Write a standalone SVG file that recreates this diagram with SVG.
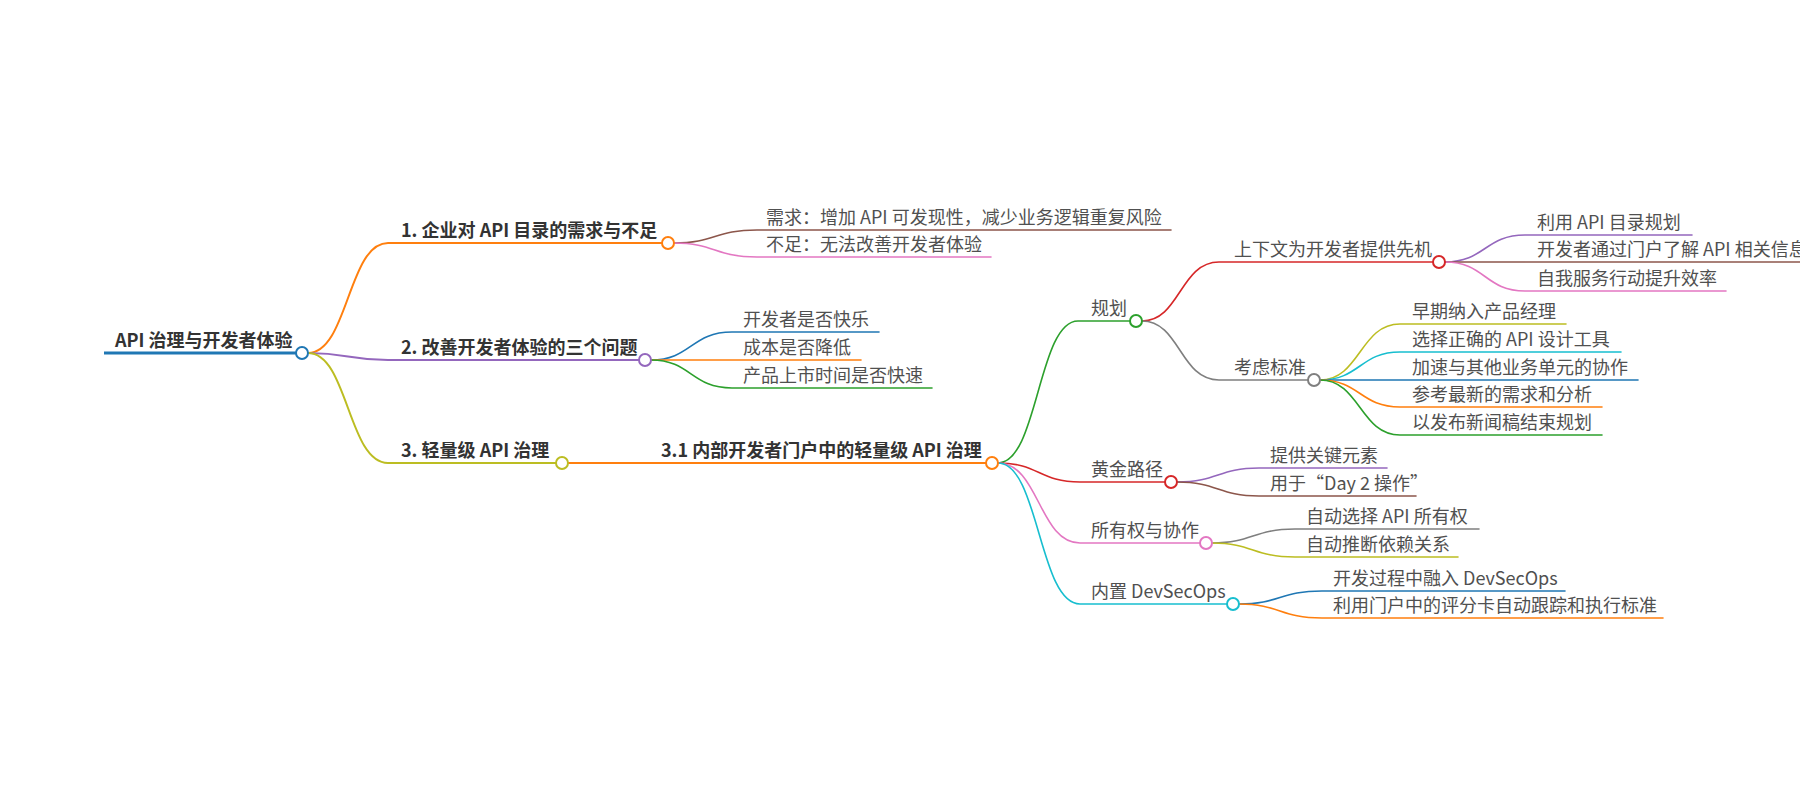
<svg xmlns="http://www.w3.org/2000/svg" width="1800" height="800" viewBox="0 0 1800 800">
<style>
.c{fill:none;stroke-width:1.6;stroke-linecap:round}
.c2{fill:none;stroke-width:2;stroke-linecap:round}
.t{font-family:"Noto Sans CJK SC","Liberation Sans",sans-serif;font-size:18px;fill:#505050}
.b{font-family:"Noto Sans CJK SC","Liberation Sans",sans-serif;font-size:18px;font-weight:bold;fill:#333}
.k{fill:#fff;stroke-width:2}
</style>
<rect width="1800" height="800" fill="#fff"/>
<g id="connectors">
<path class="c2" stroke="#ff7f0e" d="M308,353 C348,353 348,243 388,243 H662"/>
<path class="c2" stroke="#9467bd" d="M308,353 C348,353 348,360 388,360 H639"/>
<path class="c2" stroke="#bcbd22" d="M308,353 C348,353 348,463 388,463 H556"/>
<path class="c" stroke="#8c564b" d="M674,243 C715,243 715,230 757,230 H1171"/>
<path class="c" stroke="#e377c2" d="M674,243 C715,243 715,257 757,257 H991"/>
<path class="c" stroke="#1f77b4" d="M651,360 C691,360 691,332 732,332 H879"/>
<path class="c" stroke="#ff7f0e" d="M651,360 H861"/>
<path class="c" stroke="#2ca02c" d="M651,360 C691,360 691,388 732,388 H932"/>
<path class="c2" stroke="#ff7f0e" d="M568,463 H986"/>
<path class="c" stroke="#2ca02c" d="M998,463 C1038,463 1038,321 1078,321 H1130"/>
<path class="c" stroke="#d62728" d="M998,463 C1039,463 1039,482 1080,482 H1165"/>
<path class="c" stroke="#e377c2" d="M998,463 C1039,463 1039,543 1080,543 H1200"/>
<path class="c" stroke="#17becf" d="M998,463 C1039,463 1039,604 1080,604 H1227"/>
<path class="c" stroke="#d62728" d="M1142,321 C1180,321 1180,262 1219,262 H1433"/>
<path class="c" stroke="#7f7f7f" d="M1142,321 C1180,321 1180,380 1219,380 H1308"/>
<path class="c" stroke="#9467bd" d="M1445,262 C1485,262 1485,235 1525,235 H1692"/>
<path class="c" stroke="#8c564b" d="M1445,262 H1800"/>
<path class="c" stroke="#e377c2" d="M1445,262 C1485,262 1485,291 1525,291 H1726"/>
<path class="c" stroke="#bcbd22" d="M1320,380 C1360,380 1360,324 1400,324 H1566"/>
<path class="c" stroke="#17becf" d="M1320,380 C1360,380 1360,352 1400,352 H1621"/>
<path class="c" stroke="#1f77b4" d="M1320,380 H1638"/>
<path class="c" stroke="#ff7f0e" d="M1320,380 C1360,380 1360,407 1400,407 H1602"/>
<path class="c" stroke="#2ca02c" d="M1320,380 C1360,380 1360,435 1400,435 H1602"/>
<path class="c" stroke="#9467bd" d="M1177,482 C1218,482 1218,468 1259,468 H1387"/>
<path class="c" stroke="#8c564b" d="M1177,482 C1218,482 1218,496 1259,496 H1416"/>
<path class="c" stroke="#7f7f7f" d="M1212,543 C1253,543 1253,529 1295,529 H1479"/>
<path class="c" stroke="#bcbd22" d="M1212,543 C1253,543 1253,557 1295,557 H1458"/>
<path class="c" stroke="#1f77b4" d="M1239,604 C1280,604 1280,591 1322,591 H1565"/>
<path class="c" stroke="#ff7f0e" d="M1239,604 C1280,604 1280,618 1322,618 H1663"/>
</g>
<g id="root">
<path d="M104,353 H296" stroke="#1f77b4" stroke-width="3" fill="none"/>
<text class="b" x="115" y="347">API 治理与开发者体验</text>
<circle class="k" cx="302" cy="353" r="6" stroke="#1f77b4"/>
</g>
<g id="n1"><text class="b" x="401" y="237">1. 企业对 API 目录的需求与不足</text><circle class="k" cx="668" cy="243" r="6" stroke="#ff7f0e"/></g>
<g id="n2"><text class="b" x="401" y="354">2. 改善开发者体验的三个问题</text><circle class="k" cx="645" cy="360" r="6" stroke="#9467bd"/></g>
<g id="n3"><text class="b" x="401" y="457">3. 轻量级 API 治理</text><circle class="k" cx="562" cy="463" r="6" stroke="#bcbd22"/></g>
<g id="n1a"><text class="t" x="766" y="224">需求：增加 API 可发现性，减少业务逻辑重复风险</text></g>
<g id="n1b"><text class="t" x="766" y="251">不足：无法改善开发者体验</text></g>
<g id="n2a"><text class="t" x="743" y="326">开发者是否快乐</text></g>
<g id="n2b"><text class="t" x="743" y="354">成本是否降低</text></g>
<g id="n2c"><text class="t" x="743" y="382">产品上市时间是否快速</text></g>
<g id="n31"><text class="b" x="661" y="457">3.1 内部开发者门户中的轻量级 API 治理</text><circle class="k" cx="992" cy="463" r="6" stroke="#ff7f0e"/></g>
<g id="nP"><text class="t" x="1091" y="315">规划</text><circle class="k" cx="1136" cy="321" r="6" stroke="#2ca02c"/></g>
<g id="nG"><text class="t" x="1091" y="476">黄金路径</text><circle class="k" cx="1171" cy="482" r="6" stroke="#d62728"/></g>
<g id="nO"><text class="t" x="1091" y="537">所有权与协作</text><circle class="k" cx="1206" cy="543" r="6" stroke="#e377c2"/></g>
<g id="nD"><text class="t" x="1091" y="598">内置 DevSecOps</text><circle class="k" cx="1233" cy="604" r="6" stroke="#17becf"/></g>
<g id="nP1"><text class="t" x="1234" y="256">上下文为开发者提供先机</text><circle class="k" cx="1439" cy="262" r="6" stroke="#d62728"/></g>
<g id="nP2"><text class="t" x="1234" y="374">考虑标准</text><circle class="k" cx="1314" cy="380" r="6" stroke="#7f7f7f"/></g>
<g id="nP1a"><text class="t" x="1537" y="229">利用 API 目录规划</text></g>
<g id="nP1b"><text class="t" x="1537" y="256">开发者通过门户了解 API 相关信息</text></g>
<g id="nP1c"><text class="t" x="1537" y="285">自我服务行动提升效率</text></g>
<g id="nP2a"><text class="t" x="1412" y="318">早期纳入产品经理</text></g>
<g id="nP2b"><text class="t" x="1412" y="346">选择正确的 API 设计工具</text></g>
<g id="nP2c"><text class="t" x="1412" y="374">加速与其他业务单元的协作</text></g>
<g id="nP2d"><text class="t" x="1412" y="401">参考最新的需求和分析</text></g>
<g id="nP2e"><text class="t" x="1412" y="429">以发布新闻稿结束规划</text></g>
<g id="nG1"><text class="t" x="1270" y="462">提供关键元素</text></g>
<g id="nG2"><text class="t" x="1270" y="490">用于“Day 2 操作”</text></g>
<g id="nO1"><text class="t" x="1306" y="523">自动选择 API 所有权</text></g>
<g id="nO2"><text class="t" x="1306" y="551">自动推断依赖关系</text></g>
<g id="nD1"><text class="t" x="1333" y="585">开发过程中融入 DevSecOps</text></g>
<g id="nD2"><text class="t" x="1333" y="612">利用门户中的评分卡自动跟踪和执行标准</text></g>
</svg>
